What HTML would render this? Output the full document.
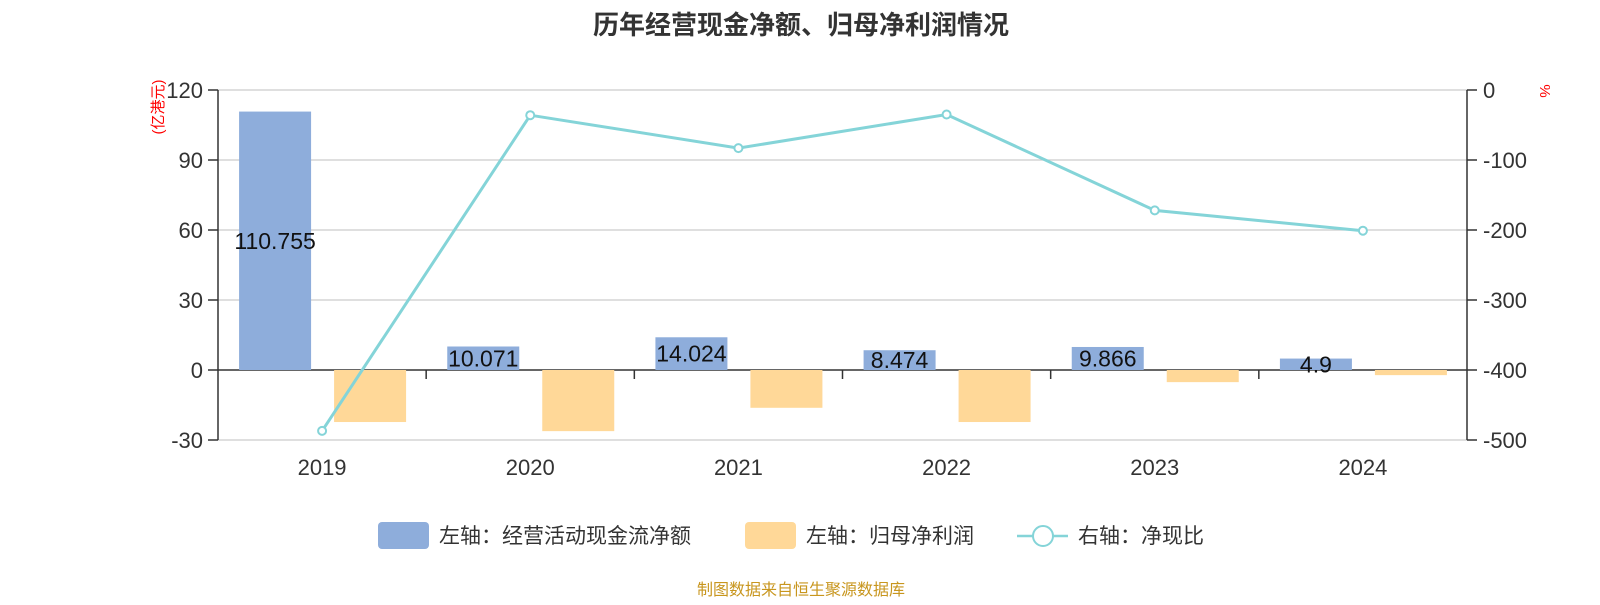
<!DOCTYPE html>
<html><head><meta charset="utf-8"><style>
body{margin:0;background:#fff;width:1600px;height:600px;overflow:hidden;font-family:"Liberation Sans","Noto Sans CJK SC",sans-serif}
</style></head><body>
<svg id="c" width="1600" height="600" xmlns="http://www.w3.org/2000/svg" font-family="Liberation Sans, Noto Sans CJK SC, sans-serif">
<text x="801" y="34" text-anchor="middle" font-size="26" font-weight="bold" fill="#333">历年经营现金净额、归母净利润情况</text>
<text transform="translate(163,107) rotate(-90)" text-anchor="middle" font-size="15" fill="#f00">(亿港元)</text>
<text transform="translate(1540,91) rotate(90)" text-anchor="middle" font-size="15" fill="#f00">%</text>
<g id="grid"></g><g id="bars"></g><g id="line"></g><g id="axes"></g>
<g>
<rect x="378" y="522" width="51" height="27" rx="4" fill="#8eaddb"/>
<text x="439" y="543" font-size="21" fill="#333">左轴：经营活动现金流净额</text>
<rect x="745" y="522" width="51" height="27" rx="4" fill="#ffd898"/>
<text x="806" y="543" font-size="21" fill="#333">左轴：归母净利润</text>
<line x1="1017" y1="536" x2="1068" y2="536" stroke="#84d4d8" stroke-width="2.5"/>
<circle cx="1043" cy="536" r="10" fill="#fff" stroke="#84d4d8" stroke-width="2"/>
<text x="1078" y="543" font-size="21" fill="#333">右轴：净现比</text>
</g>
<text x="801" y="595" text-anchor="middle" font-size="16" fill="#c8961e">制图数据来自恒生聚源数据库</text>
</svg>
<script>
const categories=["2019","2020","2021","2022","2023","2024"];
const cashflow=[110.755,10.071,14.024,8.474,9.866,4.9];
const profit=[-22.3,-26.2,-16.2,-22.3,-5.2,-2.2];
const ratio=[-487,-36,-83,-35,-172,-201];
const leftTicks=[120,90,60,30,0,-30];
const rightTicks=[0,-100,-200,-300,-400,-500];
const NS="http://www.w3.org/2000/svg";
const X0=218,X1=1467,YT=90,YB=440;
const yL=v=>YT+(120-v)/150*(YB-YT);
const yR=v=>YT+(0-v)/500*(YB-YT);
const bw=(X1-X0)/categories.length;
const xc=i=>X0+bw*(i+0.5);
function mk(tag,attrs,parent){const e=document.createElementNS(NS,tag);for(const k in attrs)e.setAttribute(k,attrs[k]);document.getElementById(parent).appendChild(e);return e;}
leftTicks.forEach(t=>{
 const g=mk("line",{x1:X0,x2:X1,y1:yL(t),y2:yL(t),stroke:t===0?"#333":"#ccc","stroke-width":t===0?1.5:1.2},"grid");
 
 
 const tk=mk("line",{x1:X0-10,x2:X0,y1:yL(t),y2:yL(t),stroke:"#333","stroke-width":1.5},"axes");
 
 
 const tx=mk("text",{x:X0-15,y:yL(t)+8,"text-anchor":"end","font-size":22,fill:"#333"},"axes");
 tx.textContent=t;
 
 
});
rightTicks.forEach(t=>{
 const tk=mk("line",{x1:X1,x2:X1+10,y1:yR(t),y2:yR(t),stroke:"#333","stroke-width":1.5},"axes");
 
 
 const tx=mk("text",{x:X1+16,y:yR(t)+8,"font-size":22,fill:"#333"},"axes");
 tx.textContent=t;
 
 
});
let a=mk("line",{x1:X0,x2:X0,y1:YT,y2:YB,stroke:"#333","stroke-width":1.5},"axes");


a=mk("line",{x1:X1,x2:X1,y1:YT,y2:YB,stroke:"#333","stroke-width":1.5},"axes");


categories.forEach((c,i)=>{
 if(i>0){const t=mk("line",{x1:X0+bw*i,x2:X0+bw*i,y1:yL(0),y2:yL(0)+9,stroke:"#333","stroke-width":1.5},"axes");
 
 }
 const tx=mk("text",{x:xc(i),y:475,"text-anchor":"middle","font-size":22,fill:"#333"},"axes");
 tx.textContent=c;
 
 
 const w=72;
 const v=cashflow[i];
 const b=mk("rect",{x:xc(i)-w-11,y:Math.min(yL(v),yL(0)),width:w,height:Math.abs(yL(v)-yL(0)),fill:"#8eaddb"},"bars");
 
 
 const p=profit[i];
 const b2=mk("rect",{x:xc(i)+12,y:Math.min(yL(p),yL(0)),width:w,height:Math.abs(yL(p)-yL(0)),fill:"#ffd898"},"bars");
 
 
 const lb=mk("text",{x:xc(i)-11-w/2,y:(yL(v)+yL(0))/2+8,"text-anchor":"middle","font-size":23,fill:"#111"},"bars");
 lb.textContent=v;
 
 
});
const pl=mk("polyline",{points:ratio.map((v,i)=>(xc(i))+","+yR(v)).join(" "),fill:"none",stroke:"#84d4d8","stroke-width":3},"line");


ratio.forEach((v,i)=>{
 const c=mk("circle",{cx:xc(i),cy:yR(v),r:4,fill:"#fff",stroke:"#84d4d8","stroke-width":2},"line");
 
 
});
</script>
</body></html>
